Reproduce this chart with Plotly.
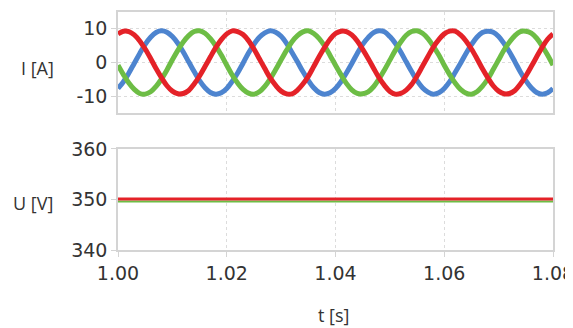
import plotly.graph_objects as go
from plotly.subplots import make_subplots

# sampling grid (s)
time_s = [round(1.000 + 0.001 * k, 3) for k in range(81)]

# phase currents (A)
i_red = [
    8.5, 9.3, 9.2, 8.2, 6.4, 4.0, 1.2, -1.8, -4.5, -6.9, -8.5, -9.3, -9.2, -8.3, -6.4, -4.0, -1.2, 1.7, 4.5, 6.8,
    8.5, 9.4, 9.2, 8.3, 6.5, 4.0, 1.1, -1.8, -4.6, -6.8, -8.5, -9.3, -9.3, -8.2, -6.4, -4.1, -1.2, 1.8, 4.5, 6.9,
    8.6, 9.3, 9.2, 8.2, 6.4, 3.9, 1.2, -1.7, -4.5, -6.8, -8.6, -9.4, -9.2, -8.2, -6.5, -4.0, -1.1, 1.8, 4.6, 6.8,
    8.5, 9.3, 9.3, 8.2, 6.4, 4.0, 1.2, -1.8, -4.5, -6.9, -8.5, -9.3, -9.2, -8.3, -6.4, -4.0, -1.2, 1.7, 4.5, 6.9,
    8.5,
]
i_blue = [
    -7.7, -5.7, -3.1, -0.2, 2.7, 5.4, 7.5, 8.9, 9.4, 9.0, 7.7, 5.7, 3.1, 0.2, -2.7, -5.4, -7.5, -8.9, -9.4, -9.0,
    -7.7, -5.6, -3.1, -0.2, 2.8, 5.4, 7.5, 8.8, 9.4, 9.0, 7.8, 5.7, 3.0, 0.2, -2.7, -5.3, -7.5, -8.9, -9.4, -9.0,
    -7.7, -5.7, -3.1, -0.3, 2.7, 5.4, 7.4, 8.9, 9.4, 9.1, 7.7, 5.7, 3.1, 0.2, -2.7, -5.4, -7.5, -8.8, -9.4, -9.0,
    -7.7, -5.7, -3.0, -0.2, 2.7, 5.3, 7.5, 8.9, 9.3, 9.0, 7.7, 5.6, 3.1, 0.2, -2.8, -5.4, -7.5, -8.9, -9.4, -9.0,
    -7.7,
]
i_green = [
    -0.8, -3.6, -6.1, -8.0, -9.2, -9.4, -8.7, -7.1, -4.9, -2.2, 0.8, 3.6, 6.1, 8.0, 9.2, 9.4, 8.7, 7.1, 4.9, 2.2,
    -0.8, -3.7, -6.1, -8.0, -9.1, -9.4, -8.7, -7.1, -4.8, -2.1, 0.8, 3.6, 6.2, 8.0, 9.1, 9.4, 8.6, 7.1, 4.9, 2.1,
    -0.8, -3.6, -6.2, -8.1, -9.2, -9.3, -8.7, -7.2, -4.9, -2.2, 0.7, 3.6, 6.1, 8.1, 9.2, 9.4, 8.7, 7.1, 4.8, 2.2,
    -0.8, -3.6, -6.1, -8.0, -9.1, -9.4, -8.7, -7.1, -4.9, -2.1, 0.8, 3.7, 6.1, 8.0, 9.2, 9.3, 8.7, 7.2, 4.9, 2.2,
    -0.8,
]

# DC voltages (V)
u_time = [1.00, 1.01, 1.02, 1.03, 1.04, 1.05, 1.06, 1.07, 1.08]
u_red = [350.1, 350.1, 350.1, 350.1, 350.1, 350.1, 350.1, 350.1, 350.1]
u_green = [349.6, 349.6, 349.6, 349.6, 349.6, 349.6, 349.6, 349.6, 349.6]

x_ticks = [1.00, 1.02, 1.04, 1.06, 1.08]
x_tick_text = ["1.00", "1.02", "1.04", "1.06", "1.08"]
i_ticks = [-10, 0, 10]
i_tick_text = ["-10", "0", "10"]
u_ticks = [340, 350, 360]
u_tick_text = ["340", "350", "360"]

RED = "#e42228"
GREEN = "#6dbd45"
BLUE = "#4d84cf"

fig = make_subplots(rows=2, cols=1, shared_xaxes=False, vertical_spacing=0.15)

for y, c in [(i_blue, BLUE), (i_green, GREEN), (i_red, RED)]:
    fig.add_trace(go.Scatter(x=time_s, y=y, mode="lines", line=dict(color=c, width=5, shape="spline"),
                             showlegend=False), row=1, col=1)

fig.add_trace(go.Scatter(x=u_time, y=u_green, mode="lines", line=dict(color=GREEN, width=2),
                         showlegend=False), row=2, col=1)
fig.add_trace(go.Scatter(x=u_time, y=u_red, mode="lines", line=dict(color=RED, width=3),
                         showlegend=False), row=2, col=1)

tick_font = dict(family="DejaVu Sans", size=19, color="#333333")
axis_common = dict(showline=True, mirror=True, linecolor="#d4d4d4", linewidth=1.5,
                   showgrid=True, gridcolor="#dcdcdc", griddash="dot", gridwidth=1,
                   zeroline=False, tickfont=tick_font, ticks="outside", ticklen=5,
                   tickcolor="#d4d4d4", automargin=False, ticklabeloverflow="allow")

fig.update_xaxes(range=[1.00, 1.08], tickvals=x_ticks, ticktext=x_tick_text, **axis_common)
fig.update_xaxes(showticklabels=False, ticks="", row=1, col=1)
fig.update_yaxes(range=[-15, 15], tickvals=i_ticks, ticktext=i_tick_text, row=1, col=1, **axis_common)
fig.update_yaxes(range=[340, 360], tickvals=u_ticks, ticktext=u_tick_text, row=2, col=1, **axis_common)

fig.update_layout(
    xaxis=dict(domain=[0, 1]), xaxis2=dict(domain=[0, 1]),
    yaxis=dict(domain=[0.5756, 1.0]), yaxis2=dict(domain=[0.0, 0.4244]),
)

title_font = dict(family="Open Sans", size=18, color="#333333")
fig.add_annotation(text="I [A]", xref="paper", yref="paper", x=-0.184, y=0.765,
                   showarrow=False, font=title_font, xanchor="center", yanchor="middle")
fig.add_annotation(text="U [V]", xref="paper", yref="paper", x=-0.195, y=0.197,
                   showarrow=False, font=title_font, xanchor="center", yanchor="middle")
fig.add_annotation(text="t [s]", xref="paper", yref="paper", x=0.495, y=-0.272,
                   showarrow=False, font=title_font, xanchor="center", yanchor="middle")

# page body has an 8 px margin, so the figure is sized/offset to land at the reference spot
fig.update_layout(
    width=565, height=320,
    margin=dict(l=110, r=20, t=4, b=78, autoexpand=False),
    paper_bgcolor="white", plot_bgcolor="white",
)

fig.write_html("out.html")
